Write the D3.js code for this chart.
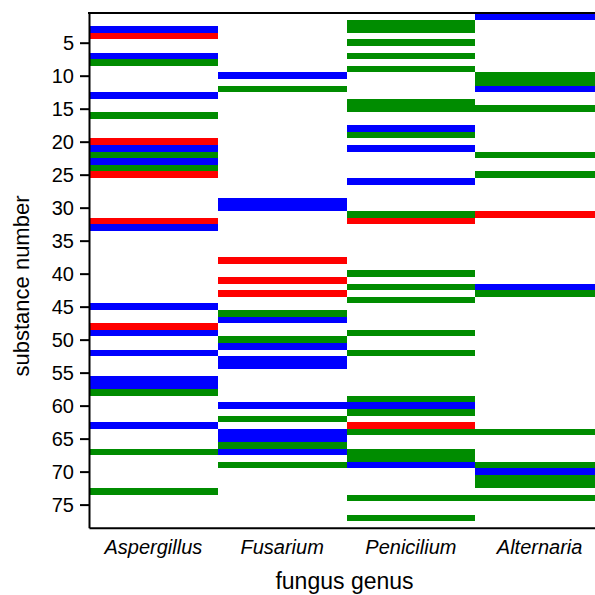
<!DOCTYPE html>
<html>
<head>
<meta charset="utf-8">
<script src="https://cdn.jsdelivr.net/npm/d3@7"></script>
<style>
  html, body { margin: 0; padding: 0; background: #fff; overflow: hidden; }
  svg { display: block; }
  text { font-family: "Liberation Sans", Arial, sans-serif; fill: #000; }
</style>
</head>
<body>
<svg id="chart" width="595" height="595"></svg>
<script>
// ---- data ----
const genera = ["Aspergillus", "Fusarium", "Penicilium", "Alternaria"];
const yTicks = [5, 10, 15, 20, 25, 30, 35, 40, 45, 50, 55, 60, 65, 70, 75];
const blueSubstances = [
  [3, 7, 13, 21, 23, 33, 45, 49, 52, 56, 57, 63],
  [10, 29, 30, 47, 51, 53, 54, 60, 64, 65, 67],
  [18, 21, 26, 60, 69],
  [1, 12, 42, 70]
];
const redSubstances = [
  [4, 20, 25, 32, 48],
  [38, 41, 43],
  [32, 63],
  [31]
];
const greenSubstances = [
  [8, 16, 22, 24, 58, 67, 73],
  [12, 46, 50, 62, 66, 69],
  [2, 3, 5, 7, 9, 14, 15, 19, 31, 40, 42, 44, 49, 52, 59, 61, 64, 67, 68, 74, 77],
  [10, 11, 15, 22, 25, 43, 64, 69, 71, 72, 74]
];
const colorNames = ["blue", "red", "green"];
const colorValues = ["#0000ff", "#ff0000", "#008c00"];

// ---- build records ----
const records = [];
[blueSubstances, redSubstances, greenSubstances].forEach((set, ci) => {
  set.forEach((list, gi) => {
    list.forEach(n => records.push({ genus: genera[gi], substance: n, kind: colorNames[ci] }));
  });
});

// ---- layout ----
const mLeft = 89, mTop = 13, plotH = 514.7, plotW = 515;
const svg = d3.select("#chart");

const x = d3.scaleBand().domain(genera).range([mLeft, mLeft + plotW]).padding(0);
const y = d3.scaleLinear().domain([0.5, 78.5]).range([mTop, mTop + plotH]);
const color = d3.scaleOrdinal().domain(colorNames).range(colorValues);

// bars
svg.append("g").selectAll("rect").data(records).join("rect")
  .attr("x", d => x(d.genus))
  .attr("width", x.bandwidth())
  .attr("y", d => y(d.substance - 0.5))
  .attr("height", d => y(d.substance + 0.5) - y(d.substance - 0.5))
  .attr("fill", d => color(d.kind))
  .attr("shape-rendering", "crispEdges");

// y axis
const yAxis = svg.append("g")
  .attr("transform", `translate(${mLeft},0)`)
  .call(d3.axisLeft(y).tickValues(yTicks).tickSize(9).tickPadding(6).tickSizeOuter(0));
yAxis.select(".domain").attr("stroke-width", 2);
yAxis.selectAll(".tick line").attr("stroke-width", 2);
yAxis.selectAll(".tick text")
  .style("font-size", "20px")
  .style("font-family", "'Liberation Sans', Arial, sans-serif");

// x axis (labels only)
const xAxis = svg.append("g")
  .attr("transform", `translate(0,${mTop + plotH})`)
  .call(d3.axisBottom(x).tickSize(0).tickPadding(12).tickSizeOuter(0));
xAxis.select(".domain").attr("stroke-width", 2);
xAxis.selectAll(".tick text")
  .style("font-size", "20px")
  .style("font-style", "italic")
  .style("font-family", "'Liberation Sans', Arial, sans-serif");

// top frame line
svg.append("line")
  .attr("x1", mLeft - 1).attr("x2", mLeft + plotW)
  .attr("y1", mTop).attr("y2", mTop)
  .attr("stroke", "#000").attr("stroke-width", 2);

// axis titles
svg.append("text")
  .attr("x", mLeft + plotW / 2 - 2)
  .attr("y", 589)
  .attr("text-anchor", "middle")
  .style("font-size", "23px")
  .text("fungus genus");

svg.append("text")
  .attr("transform", `translate(29,${286}) rotate(-90)`)
  .attr("text-anchor", "middle")
  .style("font-size", "22px")
  .text("substance number");
</script>
</body>
</html>
